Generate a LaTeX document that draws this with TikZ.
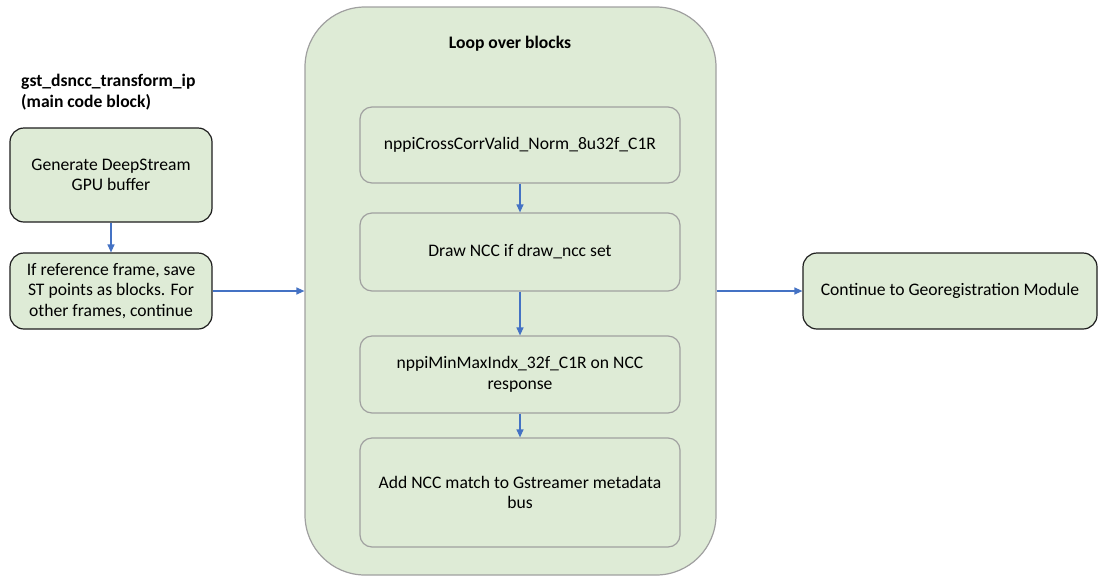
\documentclass[tikz,border=0pt]{standalone}
\usepackage{fontspec}
\setmainfont{Carlito}
\usetikzlibrary{arrows.meta}
\definecolor{boxfill}{RGB}{222,235,214}
\definecolor{greyline}{RGB}{160,160,160}
\definecolor{darkline}{RGB}{30,30,30}
\definecolor{flowblue}{RGB}{68,114,196}
\tikzset{
  basefont/.style={font=\fontsize{17.6}{20.5}\selectfont},
  boldfont/.style={font=\fontsize{17.6}{20.5}\selectfont\bfseries},
  outerbox/.style={basefont, draw=darkline, line width=1.2pt, fill=boxfill,
    rounded corners=14pt, align=center, inner sep=0pt},
  innerbox/.style={basefont, draw=greyline, line width=1.2pt, fill=boxfill,
    rounded corners=12pt, align=center, inner sep=0pt,
    minimum width=320pt},
  loopbox/.style={draw=greyline, line width=1.2pt, fill=boxfill,
    rounded corners=60pt, inner sep=0pt},
  flow/.style={draw=flowblue, line width=1.2pt,
    -{Triangle[length=8pt,width=7pt]}},
}
\begin{document}
\begin{tikzpicture}[x=1pt,y=-1pt]
  \useasboundingbox[fill=white] (0,0) rectangle (1099,576);

  % container for the per-block loop
  \node[loopbox, minimum width=411pt, minimum height=568pt] (loop) at (510.5,291) {};
  \node[boldfont] (looptitle) at (510,44) {Loop over blocks};

  % main code block on the left
  \node[boldfont, align=left, anchor=west, inner sep=0pt]
    (maintitle) at (21,92) {gst\_dsncc\_transform\_ip\\(main code block)};
  \node[outerbox, minimum width=202pt, minimum height=94pt] (gen) at (111,175)
    {Generate DeepStream\\GPU buffer};
  \node[outerbox, minimum width=202pt, minimum height=76pt] (ref) at (111,291)
    {If reference frame, save\\ST points as blocks. For\\other frames, continue};

  % steps inside the loop
  \node[innerbox, minimum height=76pt] (xcorr) at (520,145) {nppiCrossCorrValid\_Norm\_8u32f\_C1R};
  \node[innerbox, minimum height=78pt] (draw) at (520,252) {Draw NCC if draw\_ncc set};
  \node[innerbox, minimum height=77pt] (minmax) at (520,374.5) {nppiMinMaxIndx\_32f\_C1R on NCC\\response};
  \node[innerbox, minimum height=109pt] (meta) at (520,492.5) {Add NCC match to Gstreamer metadata\\bus};

  % next module
  \node[outerbox, minimum width=294pt, minimum height=76pt] (geo) at (950,291)
    {Continue to Georegistration Module};

  % connectors
  \draw[flow] (gen) -- (ref);
  \draw[flow] (ref.east) -- (loop.west |- ref.east);
  \draw[flow] (xcorr) -- (draw);
  \draw[flow] (draw) -- (minmax);
  \draw[flow] (minmax) -- (meta);
  \draw[flow] (loop.east |- geo.west) -- (geo.west);
\end{tikzpicture}
\end{document}
